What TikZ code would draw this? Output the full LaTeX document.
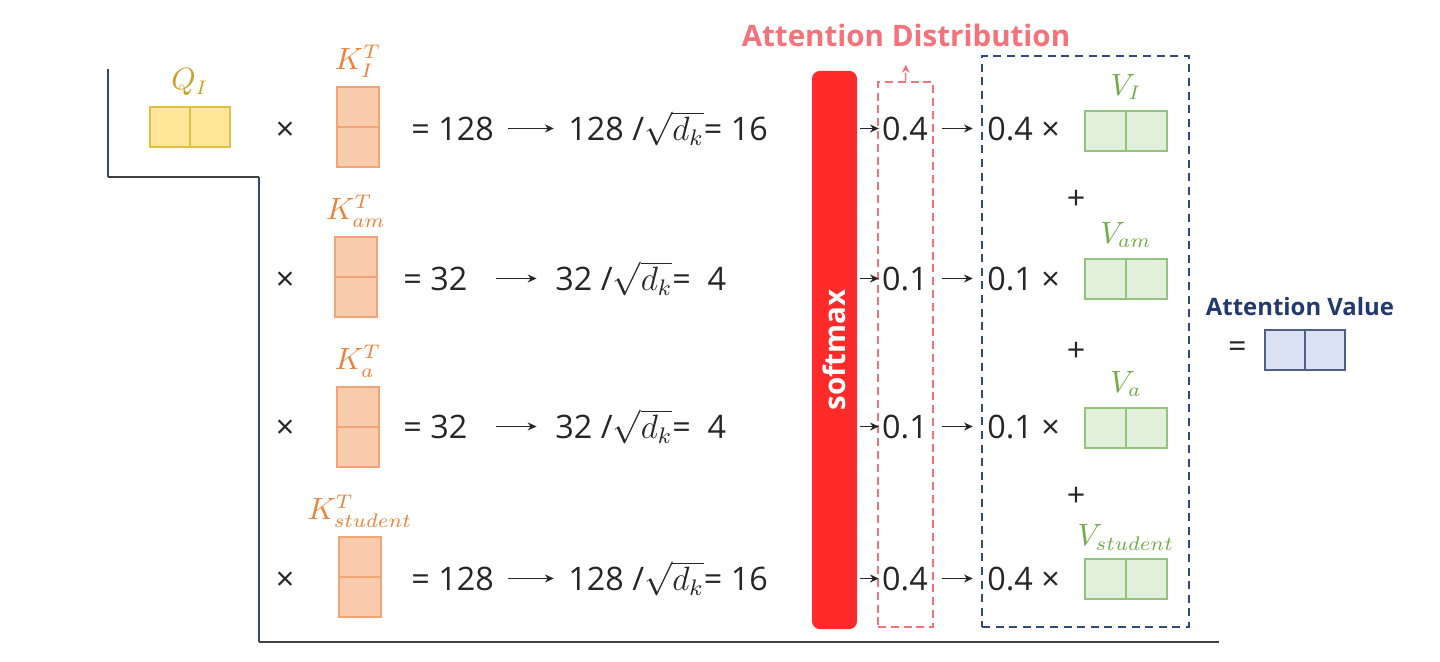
\documentclass[tikz,border=0pt]{standalone}
\usepackage{fontspec}
\setmainfont{Open Sans}
\usepackage{tikz}
\usetikzlibrary{positioning,arrows.meta}
\definecolor{qfill}{HTML}{FFE699}
\definecolor{qline}{HTML}{E3BE45}
\definecolor{qtext}{HTML}{C9A227}
\definecolor{kfill}{HTML}{F8CBAD}
\definecolor{kline}{HTML}{F2A476}
\definecolor{ktext}{HTML}{EE8237}
\definecolor{vfill}{HTML}{E2EFDA}
\definecolor{vline}{HTML}{93C47D}
\definecolor{vtext}{HTML}{70AD47}
\definecolor{afill}{HTML}{D9E1F2}
\definecolor{aline}{HTML}{4F5F86}
\definecolor{softred}{HTML}{FF2B2B}
\definecolor{distred}{HTML}{F4737B}
\definecolor{navy}{HTML}{2F4A80}
\definecolor{navytext}{HTML}{233A6E}
\definecolor{ink}{HTML}{262626}
\newcommand{\sqdk}{$\sqrt{d_k}$}

\begin{document}
\begin{tikzpicture}[x=0.0125cm, y=-0.0125cm,
  txt/.style={font=\fontsize{11.5}{14}\selectfont, text=ink, inner sep=1pt},
  mlbl/.style={font=\fontsize{10.5}{12}\selectfont, inner sep=0pt},
  qcell/.style={draw=qline, fill=qfill, line width=0.6pt, minimum width=1cm, minimum height=0.5cm, inner sep=0pt},
  kcell/.style={draw=kline, fill=kfill, line width=0.6pt, minimum width=0.525cm, minimum height=1cm, inner sep=0pt},
  vcell/.style={draw=vline, fill=vfill, line width=0.6pt, minimum width=1.025cm, minimum height=0.5cm, inner sep=0pt},
  acell/.style={draw=aline, fill=afill, line width=0.6pt, minimum width=1cm, minimum height=0.5cm, inner sep=0pt},
  softbar/.style={fill=softred, rounded corners=2.8pt, minimum width=0.5625cm, minimum height=6.975cm, inner sep=0pt},
  distbox/.style={draw=distred, line width=0.5pt, dash pattern=on 1mm off 0.6mm, minimum width=0.6875cm, minimum height=6.8125cm, inner sep=0pt},
  sumbox/.style={draw=navy, line width=0.6pt, dash pattern=on 1mm off 0.7mm, minimum width=2.5875cm, minimum height=7.1375cm, inner sep=0pt},
  ttl/.style={font=\bfseries\fontsize{10.5}{12}\selectfont},
  arr/.style={-{Stealth[length=1.1mm, width=1mm]}, line width=0.6pt, draw=ink, shorten <=4pt, shorten >=4pt},
  farr/.style={arr, shorten <=9pt, shorten >=5.5pt},
  sarr/.style={arr, shorten <=1pt, shorten >=0pt}
]
\useasboundingbox[fill=white] (0,0) rectangle (1440,661);

\draw[navy, line width=0.8pt] (108,69) -- (108,177) (259,177) -- (259,642);
\draw[black!75, line width=0.8pt] (107.6,177) -- (259.4,177) (258.6,642) -- (1219,642);

\node[softbar] (soft) at (834.5,350) {};
\node[ttl, text=white, rotate=90] (softlbl) at (soft) {softmax};
\node[distbox] (dist) at (905.5,354.5) {};
\node[ttl, text=distred] (disttitle) at (906,35) {Attention Distribution};
\node[sumbox] (sum) at (1085.5,341.5) {};

% row I
\node[qcell] (q) at (190,127) {};
\draw[qline, line width=0.6pt] (q.north) -- (q.south);
\node[mlbl, text=qtext, above=3.5pt of q] (qlbl) {$Q_I$};
\node[txt, anchor=base] (x1) at (285,140) {×};
\node[kcell] (k1) at (358,127) {};
\draw[kline, line width=0.6pt] (k1.west) -- (k1.east);
\node[mlbl, text=ktext, above=3pt of k1] (k1lbl) {$K_I^T$};
\node[txt, anchor=base west] (e1) at (408,140) {= 128};
\node[txt, anchor=base west] (s1) at (565,140) {128 /\sqdk= 16};
\node[txt, anchor=base] (p1) at (905,140) {0.4};
\node[txt, anchor=base west] (w1) at (984,140) {0.4 ×};
\node[vcell] (v1) at (1126,131) {};
\draw[vline, line width=0.6pt] (v1.north) -- (v1.south);
\node[mlbl, text=vtext, above=3.5pt of v1] (v1lbl) {$V_I$};

% row am
\node[txt, anchor=base] (x2) at (285,290) {×};
\node[kcell] (k2) at (356,277) {};
\draw[kline, line width=0.6pt] (k2.west) -- (k2.east);
\node[mlbl, text=ktext, above=3pt of k2] (k2lbl) {$K_{am}^T$};
\node[txt, anchor=base west] (e2) at (400,290) {= 32};
\node[txt, anchor=base west] (s2) at (552,290) {32 /\sqdk= \ 4};
\node[txt, anchor=base] (p2) at (905,290) {0.1};
\node[txt, anchor=base west] (w2) at (984,290) {0.1 ×};
\node[vcell] (v2) at (1126,279) {};
\draw[vline, line width=0.6pt] (v2.north) -- (v2.south);
\node[mlbl, text=vtext, above=3.5pt of v2] (v2lbl) {$V_{am}$};

% row a
\node[txt, anchor=base] (x3) at (285,438) {×};
\node[kcell] (k3) at (358,427) {};
\draw[kline, line width=0.6pt] (k3.west) -- (k3.east);
\node[mlbl, text=ktext, above=3pt of k3] (k3lbl) {$K_a^T$};
\node[txt, anchor=base west] (e3) at (400,438) {= 32};
\node[txt, anchor=base west] (s3) at (552,438) {32 /\sqdk= \ 4};
\node[txt, anchor=base] (p3) at (905,438) {0.1};
\node[txt, anchor=base west] (w3) at (984,438) {0.1 ×};
\node[vcell] (v3) at (1126,428) {};
\draw[vline, line width=0.6pt] (v3.north) -- (v3.south);
\node[mlbl, text=vtext, above=3.5pt of v3] (v3lbl) {$V_a$};

% row student
\node[txt, anchor=base] (x4) at (285,590) {×};
\node[kcell] (k4) at (360,577) {};
\draw[kline, line width=0.6pt] (k4.west) -- (k4.east);
\node[mlbl, text=ktext, above=3pt of k4] (k4lbl) {$K_{student}^T$};
\node[txt, anchor=base west] (e4) at (408,590) {= 128};
\node[txt, anchor=base west] (s4) at (565,590) {128 /\sqdk= 16};
\node[txt, anchor=base] (p4) at (905,590) {0.4};
\node[txt, anchor=base west] (w4) at (984,590) {0.4 ×};
\node[vcell] (v4) at (1126,579) {};
\draw[vline, line width=0.6pt] (v4.north) -- (v4.south);
\node[mlbl, text=vtext, above=2.5pt of v4] (v4lbl) {$V_{student}$};

\node[txt] (plus1) at (1076,200) {+};
\node[txt] (plus2) at (1076,352) {+};
\node[txt] (plus3) at (1076,497) {+};

\node[ttl, text=navytext, font=\bfseries\fontsize{8.5}{10}\selectfont] (attlbl) at (1300,307) {Attention Value};
\node[acell] (att) at (1305,350) {};
\draw[aline, line width=0.6pt] (att.north) -- (att.south);
\node[txt, left=5pt of att] (atteq) {=};

\draw[arr] (e1.east) -- (e1.east -| s1.west);
\draw[farr] (e2.east) -- (e2.east -| s2.west);
\draw[farr] (e3.east) -- (e3.east -| s3.west);
\draw[arr] (e4.east) -- (e4.east -| s4.west);
\draw[sarr] (soft.east |- p1.west) -- (p1.west);
\draw[sarr] (soft.east |- p2.west) -- (p2.west);
\draw[sarr] (soft.east |- p3.west) -- (p3.west);
\draw[sarr] (soft.east |- p4.west) -- (p4.west);
\draw[arr] (p1.east) -- (p1.east -| w1.west);
\draw[arr] (p2.east) -- (p2.east -| w2.west);
\draw[arr] (p3.east) -- (p3.east -| w3.west);
\draw[arr] (p4.east) -- (p4.east -| w4.west);
\draw[-{Stealth[length=1mm, width=1mm]}, draw=distred, line width=0.5pt, dash pattern=on 1mm off 0.6mm, shorten >=3pt] (dist.north) -- (disttitle.south);
\end{tikzpicture}
\end{document}
